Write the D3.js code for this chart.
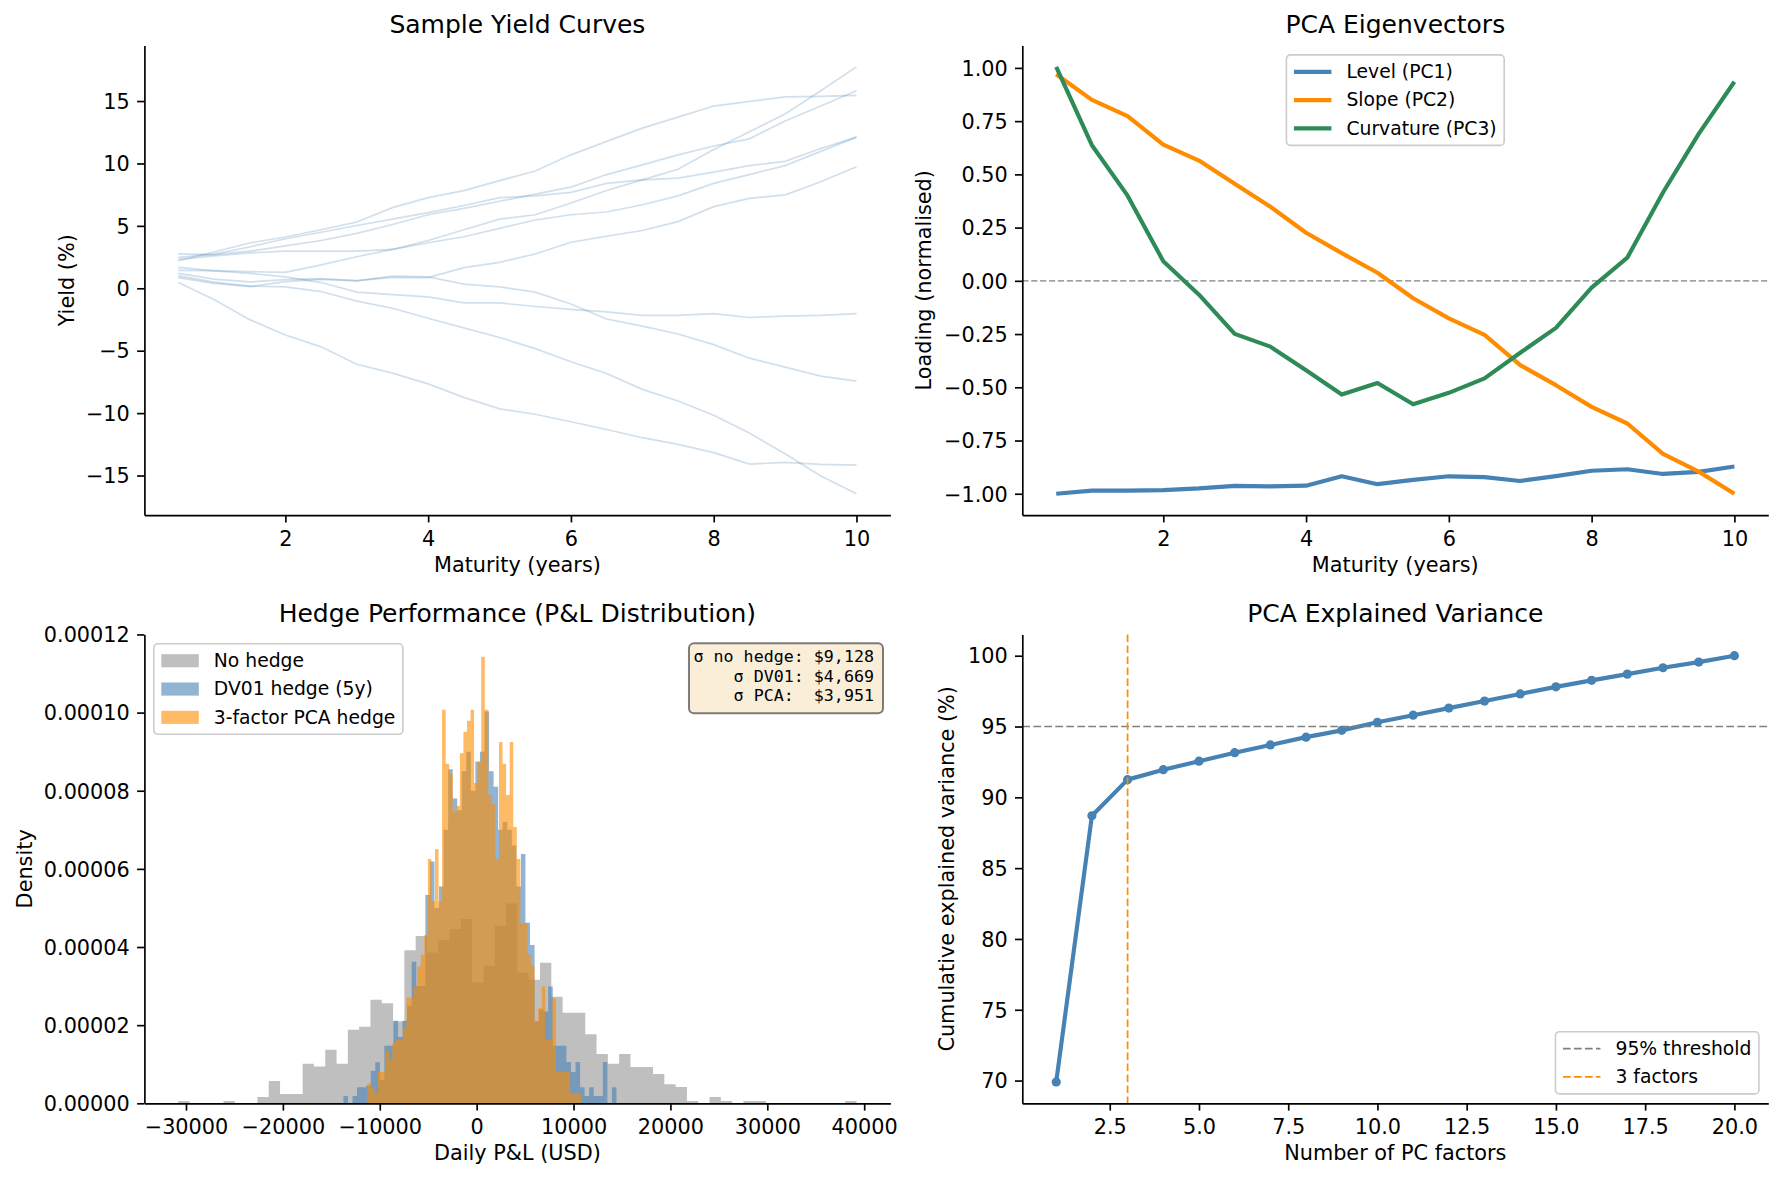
<!DOCTYPE html>
<html>
<head>
<meta charset="utf-8">
<script src="https://cdn.jsdelivr.net/npm/d3@7"></script>
<style>
  body { margin: 0; background: #fff; }
  svg { font-family: "DejaVu Sans", sans-serif; }
  .axis .tick text { font-size: 20.8px; fill: #000; font-family: "DejaVu Sans", sans-serif; }
  .axis path, .axis line { stroke: #000; stroke-width: 1.67px; }
</style>
</head>
<body>
<script>
// ---- data ----
const maturities = [0.5, 1, 1.5, 2, 2.5, 3, 3.5, 4, 4.5, 5, 5.5, 6, 6.5, 7, 7.5, 8, 8.5, 9, 9.5, 10];

// sample yield curves (%), one row per curve
const curve1 = [0.46, -0.89, -2.51, -3.74, -4.69, -6.09, -6.8, -7.66, -8.74, -9.66, -10.09, -10.69, -11.31, -11.97, -12.51, -13.17, -14.09, -13.94, -14.11, -14.17];
const curve2 = [0.99, 0.49, 0.17, 0.11, -0.26, -1.03, -1.6, -2.4, -3.17, -3.94, -4.83, -5.89, -6.83, -8.1, -9.03, -10.17, -11.6, -13.26, -15.03, -16.46];
const curve3 = [1.2, 0.74, 0.51, 0.69, 0.77, 0.6, 0.97, 0.91, 0.34, 0.11, -0.31, -1.26, -2.46, -3.03, -3.66, -4.51, -5.6, -6.31, -7.03, -7.43];
const curve4 = [1.68, 1.4, 1.2, 0.91, 0.46, -0.31, -0.51, -0.69, -1.17, -1.17, -1.46, -1.69, -1.89, -2.17, -2.17, -2.03, -2.34, -2.23, -2.17, -2.03];
const curve5 = [0.85, 0.4, 0.13, 0.53, 0.72, 0.61, 0.88, 0.85, 1.65, 2.08, 2.75, 3.69, 4.17, 4.63, 5.34, 6.54, 7.2, 7.49, 8.54, 9.74];
const curve6 = [1.44, 1.41, 1.33, 1.28, 1.87, 2.53, 3.12, 3.65, 4.13, 4.8, 5.47, 5.89, 6.11, 6.69, 7.4, 8.4, 9.11, 9.83, 10.97, 12.11];
const curve7 = [2.48, 2.74, 3.31, 3.97, 4.49, 5.03, 5.54, 6.06, 6.63, 7.26, 7.4, 7.69, 8.4, 8.69, 8.83, 9.31, 9.83, 10.17, 11.2, 12.11];
const curve8 = [2.21, 2.91, 3.63, 4.11, 4.69, 5.31, 6.46, 7.26, 7.83, 8.63, 9.4, 10.69, 11.77, 12.83, 13.71, 14.6, 14.97, 15.34, 15.37, 15.46];
const curve9 = [2.32, 2.6, 2.83, 2.97, 2.97, 2.98, 3.11, 3.83, 4.69, 5.54, 5.89, 6.83, 7.83, 8.69, 9.54, 11.11, 12.54, 13.97, 15.83, 17.74];
const curve10 = [2.75, 2.69, 2.97, 3.4, 3.83, 4.4, 5.11, 5.89, 6.4, 6.97, 7.54, 8.11, 9.11, 9.89, 10.69, 11.4, 11.97, 13.4, 14.6, 15.83];
const yieldCurves = [curve1, curve2, curve3, curve4, curve5, curve6, curve7, curve8, curve9, curve10];

// PCA eigenvector loadings (normalised)
const levelPC1 = [-1.0, -0.985, -0.985, -0.983, -0.975, -0.963, -0.965, -0.962, -0.918, -0.955, -0.935, -0.918, -0.922, -0.94, -0.917, -0.892, -0.885, -0.907, -0.897, -0.872];
const slopePC2 = [0.97, 0.85, 0.774, 0.64, 0.565, 0.456, 0.348, 0.226, 0.13, 0.038, -0.082, -0.176, -0.254, -0.396, -0.49, -0.592, -0.67, -0.813, -0.896, -1.0];
const curvPC3 = [1.005, 0.637, 0.40, 0.092, -0.065, -0.249, -0.309, -0.42, -0.534, -0.48, -0.58, -0.526, -0.458, -0.338, -0.221, -0.032, 0.109, 0.415, 0.69, 0.935];

// cumulative explained variance (%)
const pcFactors = [1, 2, 3, 4, 5, 6, 7, 8, 9, 10, 11, 12, 13, 14, 15, 16, 17, 18, 19, 20];
const cumVariance = [69.9, 88.7, 91.25, 91.95, 92.55, 93.15, 93.7, 94.25, 94.73, 95.3, 95.8, 96.3, 96.8, 97.3, 97.8, 98.26, 98.7, 99.15, 99.55, 100.0];

// P&L histograms: [first edge, last edge] in USD and 60 bin densities (x 1e-6)
const noHedgeRange = [-30794, 39206];
const noHedgeDensity = [0.6, 0, 0, 0, 0.6, 0, 0, 1.6, 5.7, 2.4, 2.4, 10.1, 9.4, 13.7, 10.1, 18.8, 19.6, 26.5, 25.6, 21.0,
  39.2, 42.8, 38.6, 41.8, 44.6, 47.2, 30.9, 35.2, 45.4, 51.2, 33.4, 31.6, 36.0, 27.3, 23.2, 23.2, 17.7, 12.6, 10.1, 12.6,
  9.3, 9.3, 7.5, 4.9, 4.2, 0.6, 0, 1.6, 0.6, 0, 0.6, 0.6, 0, 0, 0, 0, 0, 0, 0, 0.6];
const dv01Range = [-13753, 14433];
const dv01Density = [1.9, 0, 1.9, 4.1, 4.1, 4.5, 8.3, 10.5, 6, 14.7, 14.7, 21.1, 17, 21.1, 25, 36.2, 30, 30, 53.3, 61.9,
  50, 55.5, 70, 85.5, 78, 75, 85, 90, 80, 87.5, 90, 100.3, 85, 81, 70, 72, 70, 66, 55.5, 63.8,
  46.2, 40.5, 21, 24, 23.5, 29.9, 14.7, 14.7, 14.7, 10.6, 8, 10.6, 4.1, 1.9, 4.1, 1.9, 1.9, 10.6, 0, 4.1];
const pcaRange = [-11278, 10753];
const pcaDensity = [5.1, 4, 2.5, 8, 8, 13.5, 11.1, 15.4, 16.2, 16.2, 19.6, 27, 27, 29.9, 35, 38, 43.1, 62.5, 51.8, 65,
  51.6, 100.7, 86.9, 84.3, 74.7, 76.1, 89.6, 95.1, 97.9, 100.7, 82, 87.3, 114.3, 100.7, 78.9, 76.6, 62.5, 92.5, 86.9, 78.9,
  92.5, 70.7, 62.5, 46.1, 46.1, 38, 35.2, 21.1, 24.3, 29.9, 16.2, 16.2, 26.9, 8, 8, 8, 8, 2.6, 2.6, 2.6];
const sigmaLines = ['σ no hedge: $9,128', 'σ DV01: $4,669', 'σ PCA:  $3,951'];

// tick values
const maturityTicks = [2, 4, 6, 8, 10];
const yieldTicks = [-15, -10, -5, 0, 5, 10, 15];
const loadingTicks = [-1, -0.75, -0.5, -0.25, 0, 0.25, 0.5, 0.75, 1];
const pnlTicks = [-30000, -20000, -10000, 0, 10000, 20000, 30000, 40000];
const densityTicks = [0, 0.00002, 0.00004, 0.00006, 0.00008, 0.0001, 0.00012];
const factorTicks = [2.5, 5, 7.5, 10, 12.5, 15, 17.5, 20];
const varianceTicks = [70, 75, 80, 85, 90, 95, 100];

// ---- layout ----
const W = 1783, H = 1182;
const TICK = 7.3;
const FS_TITLE = 25, FS_LABEL = 20.8, FS_LEGEND = 18.75, FS_MONO = 16.67;
const colX = [[144.4, 890.4], [1022.3, 1768.3]];
const rowY = [[45.5, 515.1], [634.4, 1103.3]];

const svg = d3.select('body').append('svg')
  .attr('width', W).attr('height', H).style('display', 'block');
svg.append('rect').attr('width', W).attr('height', H).attr('fill', '#fff');

// matplotlib-like 5% margins
function padded(ext) {
  const m = (ext[1] - ext[0]) * 0.05;
  return [ext[0] - m, ext[1] + m];
}

function makePanel(ci, ri, opt) {
  const [l, r] = colX[ci];
  const [t, b] = rowY[ri];
  const w = r - l, h = b - t;
  const root = svg.append('g').attr('transform', `translate(${l},${t})`);
  const x = d3.scaleLinear().domain(opt.xDomain).range([0, w]);
  const y = d3.scaleLinear().domain(opt.yDomain).range([h, 0]);
  const marks = root.append('g');

  const xAxis = root.append('g').attr('class', 'axis')
    .attr('transform', `translate(0,${h})`)
    .call(d3.axisBottom(x).tickValues(opt.xTicks).tickFormat(opt.xFormat)
      .tickSize(TICK).tickSizeOuter(0).tickPadding(TICK));
  xAxis.selectAll('.tick text').attr('dy', '0.76em');
  const yAxis = root.append('g').attr('class', 'axis')
    .call(d3.axisLeft(y).tickValues(opt.yTicks).tickFormat(opt.yFormat)
      .tickSize(TICK).tickSizeOuter(0).tickPadding(TICK));
  yAxis.selectAll('.tick text').attr('dy', '0.35em');

  root.append('text')
    .attr('x', w / 2).attr('y', -12.5)
    .attr('text-anchor', 'middle').attr('font-size', FS_TITLE)
    .text(opt.title);
  root.append('text')
    .attr('x', w / 2).attr('y', h + 57)
    .attr('text-anchor', 'middle').attr('font-size', FS_LABEL)
    .text(opt.xLabel);
  root.append('text')
    .attr('transform', `translate(${-opt.yLabelOffset},${h / 2}) rotate(-90)`)
    .attr('dy', '0.35em')
    .attr('text-anchor', 'middle').attr('font-size', FS_LABEL)
    .text(opt.yLabel);

  return { root, marks, x, y, w, h };
}

// legend box in matplotlib style
function drawLegend(p, items, place) {
  const fs = FS_LEGEND, bpad = 0.4 * fs, hl = 2 * fs, gap = 0.8 * fs;
  const rowH = 28.3, txtH = 18.9;
  const g = p.root.append('g');
  const frame = g.append('rect');
  const texts = items.map((it, i) => g.append('text')
    .attr('x', bpad + hl + gap)
    .attr('y', bpad + txtH / 2 + i * rowH + 0.33 * fs)
    .attr('font-size', fs)
    .text(it.label));
  const tw = d3.max(texts, t => t.node().getComputedTextLength());
  const bw = bpad * 2 + hl + gap + tw;
  const bh = bpad * 2 + txtH + (items.length - 1) * rowH;
  items.forEach((it, i) => {
    const cy = bpad + txtH / 2 + i * rowH;
    if (it.type === 'patch') {
      g.append('rect')
        .attr('x', bpad).attr('y', cy - 0.35 * fs)
        .attr('width', hl).attr('height', 0.7 * fs)
        .attr('fill', it.color).attr('fill-opacity', it.opacity);
    } else {
      g.append('line')
        .attr('x1', bpad).attr('x2', bpad + hl)
        .attr('y1', cy).attr('y2', cy)
        .attr('stroke', it.color).attr('stroke-width', it.width)
        .attr('stroke-dasharray', it.dash || null);
    }
  });
  frame.attr('width', bw).attr('height', bh).attr('rx', 4)
    .attr('fill', '#fff').attr('fill-opacity', 0.8)
    .attr('stroke', '#cccccc').attr('stroke-width', 1.6);
  const [px, py] = place(bw, bh);
  g.attr('transform', `translate(${px},${py})`);
}

const fmtInt = d3.format('d');

// ---- 1. sample yield curves ----
const p1 = makePanel(0, 0, {
  title: 'Sample Yield Curves', xLabel: 'Maturity (years)', yLabel: 'Yield (%)', yLabelOffset: 78,
  xDomain: padded(d3.extent(maturities)), yDomain: padded(d3.extent(yieldCurves.flat())),
  xTicks: maturityTicks, yTicks: yieldTicks, xFormat: fmtInt, yFormat: fmtInt
});
const yieldLine = d3.line().x((d, i) => p1.x(maturities[i])).y(d => p1.y(d));
p1.marks.selectAll('path.curve').data(yieldCurves).join('path')
  .attr('class', 'curve')
  .attr('d', yieldLine)
  .attr('fill', 'none').attr('stroke', 'steelblue')
  .attr('stroke-opacity', 0.25).attr('stroke-width', 1.7);

// ---- 2. PCA eigenvectors ----
const eigSeries = [
  { label: 'Level (PC1)', values: levelPC1, color: 'steelblue' },
  { label: 'Slope (PC2)', values: slopePC2, color: 'darkorange' },
  { label: 'Curvature (PC3)', values: curvPC3, color: 'seagreen' }
];
const p2 = makePanel(1, 0, {
  title: 'PCA Eigenvectors', xLabel: 'Maturity (years)', yLabel: 'Loading (normalised)', yLabelOffset: 99,
  xDomain: padded(d3.extent(maturities)),
  yDomain: padded(d3.extent(eigSeries.flatMap(s => s.values))),
  xTicks: maturityTicks, yTicks: loadingTicks, xFormat: fmtInt, yFormat: d3.format('.2f')
});
p2.marks.append('line')
  .attr('x1', 0).attr('x2', p2.w)
  .attr('y1', p2.y(0)).attr('y2', p2.y(0))
  .attr('stroke', 'grey').attr('stroke-width', 1.2).attr('stroke-dasharray', '6.2,2.7');
const eigLine = d3.line().x((d, i) => p2.x(maturities[i])).y(d => p2.y(d));
p2.marks.selectAll('path.eig').data(eigSeries).join('path')
  .attr('class', 'eig')
  .attr('d', d => eigLine(d.values))
  .attr('fill', 'none').attr('stroke', d => d.color)
  .attr('stroke-width', 4.17).attr('stroke-linejoin', 'round');
drawLegend(p2, eigSeries.map(s => ({ label: s.label, color: s.color, width: 4.17 })),
  (bw) => [(p2.w - bw) / 2, 9.4]);

// ---- 3. hedge performance histogram ----
const histSeries = [
  { label: 'No hedge', range: noHedgeRange, dens: noHedgeDensity, color: 'grey', opacity: 0.5 },
  { label: 'DV01 hedge (5y)', range: dv01Range, dens: dv01Density, color: 'steelblue', opacity: 0.6 },
  { label: '3-factor PCA hedge', range: pcaRange, dens: pcaDensity, color: 'darkorange', opacity: 0.6 }
];
function histPoints(s) {
  const n = s.dens.length, bw = (s.range[1] - s.range[0]) / n;
  const pts = s.dens.map((d, i) => [s.range[0] + i * bw, d * 1e-6]);
  pts.push([s.range[1], s.dens[n - 1] * 1e-6]);
  return pts;
}
const maxDens = d3.max(histSeries.flatMap(s => s.dens)) * 1e-6;
const p3 = makePanel(0, 1, {
  title: 'Hedge Performance (P&L Distribution)', xLabel: 'Daily P&L (USD)', yLabel: 'Density', yLabelOffset: 120,
  xDomain: padded([d3.min(histSeries, s => s.range[0]), d3.max(histSeries, s => s.range[1])]),
  yDomain: [0, maxDens * 1.05],
  xTicks: pnlTicks, yTicks: densityTicks, xFormat: fmtInt, yFormat: d3.format('.5f')
});
const histArea = d3.area().curve(d3.curveStepAfter)
  .x(d => p3.x(d[0])).y0(p3.y(0)).y1(d => p3.y(d[1]));
p3.marks.selectAll('path.hist').data(histSeries).join('path')
  .attr('class', 'hist')
  .attr('d', d => histArea(histPoints(d)))
  .attr('fill', d => d.color).attr('fill-opacity', d => d.opacity);
drawLegend(p3, histSeries.map(s => ({ label: s.label, color: s.color, opacity: s.opacity, type: 'patch' })),
  () => [9.4, 9.4]);

// sigma text box
const boxG = p3.root.append('g');
const boxRect = boxG.append('rect');
const boxText = boxG.append('text')
  .attr('font-family', '"DejaVu Sans Mono", monospace')
  .attr('font-size', FS_MONO).attr('text-anchor', 'end');
sigmaLines.forEach((s, i) => {
  boxText.append('tspan').attr('x', p3.w - 16.4).attr('y', 27.9 + i * 19.4)
    .attr('xml:space', 'preserve').style('white-space', 'pre').text(s);
});
const bb = boxText.node().getBBox();
boxRect.attr('x', bb.x - 4.5).attr('y', 8.9)
  .attr('width', p3.w - 7.4 - (bb.x - 4.5)).attr('height', 70)
  .attr('rx', 5)
  .attr('fill', 'rgb(250,238,217)')
  .attr('stroke', 'rgba(0,0,0,0.5)').attr('stroke-width', 2);

// ---- 4. explained variance ----
const p4 = makePanel(1, 1, {
  title: 'PCA Explained Variance', xLabel: 'Number of PC factors', yLabel: 'Cumulative explained variance (%)', yLabelOffset: 76,
  xDomain: padded(d3.extent(pcFactors)), yDomain: padded(d3.extent(cumVariance)),
  xTicks: factorTicks, yTicks: varianceTicks, xFormat: d3.format('.1f'), yFormat: fmtInt
});
const varLine = d3.line().x((d, i) => p4.x(pcFactors[i])).y(d => p4.y(d));
p4.marks.append('path')
  .attr('d', varLine(cumVariance))
  .attr('fill', 'none').attr('stroke', 'steelblue')
  .attr('stroke-width', 4.17).attr('stroke-linejoin', 'round');
p4.marks.selectAll('circle').data(cumVariance).join('circle')
  .attr('cx', (d, i) => p4.x(pcFactors[i])).attr('cy', d => p4.y(d))
  .attr('r', 4.6).attr('fill', 'steelblue');
p4.marks.append('line')
  .attr('x1', 0).attr('x2', p4.w)
  .attr('y1', p4.y(95)).attr('y2', p4.y(95))
  .attr('stroke', 'grey').attr('stroke-width', 1.7).attr('stroke-dasharray', '7.7,3.3');
p4.marks.append('line')
  .attr('x1', p4.x(3)).attr('x2', p4.x(3))
  .attr('y1', 0).attr('y2', p4.h)
  .attr('stroke', 'darkorange').attr('stroke-width', 1.7).attr('stroke-dasharray', '7.7,3.3');
drawLegend(p4, [
  { label: '95% threshold', color: 'grey', width: 1.7, dash: '7.7,3.3' },
  { label: '3 factors', color: 'darkorange', width: 1.7, dash: '7.7,3.3' }
], (bw, bh) => [p4.w - bw - 9.4, p4.h - bh - 9.4]);
</script>
</body>
</html>
